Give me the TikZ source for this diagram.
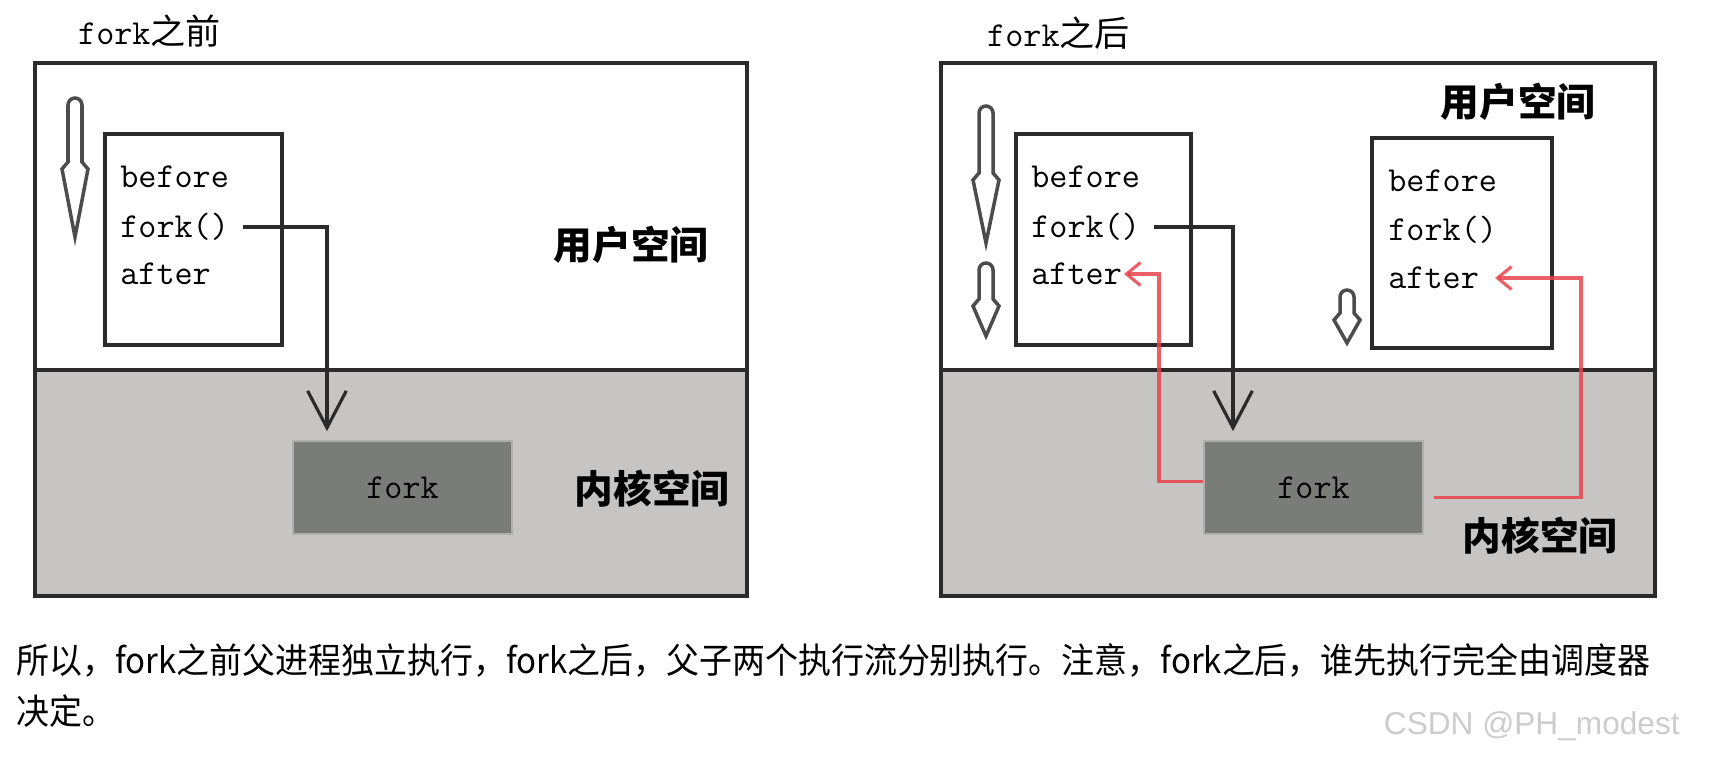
\documentclass[tikz,border=0pt]{standalone}
\usepackage{fontspec}
\usepackage{tikz}
\usetikzlibrary{arrows.meta,calc}
\newfontfamily\cjk{Noto Sans CJK SC}
\newfontfamily\wmfont{Liberation Sans}
\definecolor{kspace}{HTML}{C7C5C4}
\definecolor{kbox}{HTML}{7A7C78}
\definecolor{ink}{HTML}{2B2B2B}
\definecolor{flow}{HTML}{E8434D}

\begin{document}
\begin{tikzpicture}[x=0.02cm,y=-0.02cm,
	frame/.style={draw=ink,line width=2pt},
	codebox/.style={draw=ink,line width=2.2pt,fill=white,minimum height=4.22cm},
	kernbox/.style={draw=kbox!60!white,line width=1.2pt,fill=kbox,minimum width=4.38cm,minimum height=1.86cm,font=\fontsize{20}{24}\selectfont\ttfamily},
	code/.style={anchor=west,inner sep=0pt,font=\fontsize{20}{24}\selectfont\ttfamily},
	space/.style={font=\fontsize{22}{26}\selectfont\cjk\bfseries},
	title/.style={anchor=west,font=\fontsize{20}{24}\selectfont},
	caption/.style={anchor=west,inner sep=0pt,xscale=0.938,transform shape,font=\fontsize{20}{24}\selectfont\cjk},
	link/.style={ink,line width=1.8pt,-{Straight Barb[length=21pt,width=22pt,line width=1.8pt]}},
	flowline/.style={flow,opacity=0.85,line width=1.8pt,-{Straight Barb[length=8pt,width=13pt,line width=1.8pt]}},
	hollow/.style={draw=gray!60!black,line width=2pt,fill=white}]
	\useasboundingbox (0,0) rectangle (1716,757);
	\fill[white] (0,0) rectangle (1716,757);

	% before fork
	\fill[kspace] (35,370) rectangle (747,596);
	\draw[frame] (35,63) rectangle (747,596);
	\draw[frame] (35,370) -- (747,370);
	\node[title] (t1) at (72,31) {{\ttfamily fork}{\cjk 之前}};

	\node[codebox,minimum width=3.54cm] (box1) at (193.5,239.5) {};
	\node[code] (bf1) at (120,177) {before};
	\node[code] (fk1) at (120,227) {fork()};
	\node[code] (af1) at (120,274) {after};
	\node[kernbox] (kern1) at (402.5,487.5) {fork};
	\node[space] (us1) at (631,245) {用户空间};
	\node[space] (ks1) at (652,489) {内核空间};

	\draw[link,shorten <=8pt,shorten >=5pt] (fk1.east) -| ($(kern1.north west)+(35,0)$);

	% after fork
	\fill[kspace] (941,370) rectangle (1655,596);
	\draw[frame] (941,63) rectangle (1655,596);
	\draw[frame] (941,370) -- (1655,370);
	\node[title] (t2) at (981,33) {{\ttfamily fork}{\cjk 之后}};

	\node[codebox,minimum width=3.5cm] (box2) at (1103.5,239.5) {};
	\node[code] (bf2) at (1031,177) {before};
	\node[code] (fk2) at (1031,227) {fork()};
	\node[code] (af2) at (1031,274) {after};

	\node[codebox,minimum width=3.6cm,minimum height=4.2cm] (box3) at (1462,243) {};
	\node[code] (bf3) at (1388,181) {before};
	\node[code] (fk3) at (1388,230) {fork()};
	\node[code] (af3) at (1388,278) {after};

	\node[kernbox] (kern2) at (1313.5,487.5) {fork};
	\node[space] (us2) at (1518,102) {用户空间};
	\node[space] (ks2) at (1540,536) {内核空间};

	\draw[link,shorten <=8pt,shorten >=5pt] (fk2.east) -| ($(kern2.north west)+(30,0)$);
	\draw[flowline,shorten >=1pt] ($(kern2.west)+(0,-6)$) -- ++(-44,0) |- (af2.east);
	\draw[flowline,shorten >=9pt] ($(kern2.east)+(10,10)$) -- ++(147,0) |- (af3.east);

	% flow of execution
	\foreach \c/\t/\h/\b in {75/98/162/237, 986/106/173/243, 986/263/299/336, 1347/290/313/343}
		\draw[hollow] (\c-7,\h) -- (\c-7,\t+7) arc[start angle=180,end angle=360,radius=7] -- (\c+7,\h) -- (\c+13,\h+7) -- (\c,\b) -- (\c-13,\h+7) -- cycle;

	% caption
	\node[caption] (cap1) at (16,660) {所以，fork之前父进程独立执行，fork之后，父子两个执行流分别执行。注意，fork之后，谁先执行完全由调度器};
	\node[caption] (cap2) at (16,711) {决定。};
	\node[anchor=east,inner sep=0pt,text=gray!40,font=\fontsize{18}{22}\selectfont\wmfont] (wm) at (1680,726) {CSDN @PH\_modest};
\end{tikzpicture}
\end{document}
